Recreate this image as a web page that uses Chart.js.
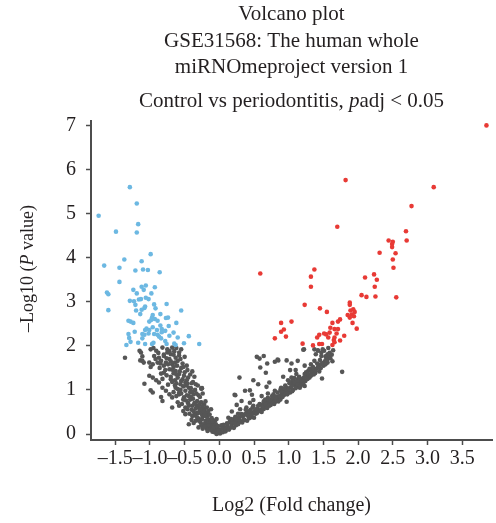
<!DOCTYPE html>
<html>
<head>
<meta charset="utf-8">
<title>Volcano plot</title>
<script src="https://cdn.jsdelivr.net/npm/chart.js@4.4.1/dist/chart.umd.min.js"></script>
<style>
  html, body { margin: 0; padding: 0; background: #ffffff; }
  #wrap { width: 496px; height: 523px; }
</style>
</head>
<body>
<div id="wrap"><canvas id="volcanoChart"></canvas></div>
<script>
// Textos
const titleLines = ["Volcano plot", "GSE31568: The human whole", "miRNOmeproject version 1"];
const subtitleRuns = [
  { text: "Control vs periodontitis, " },
  { text: "p", italic: true },
  { text: "adj < 0.05" },
];
const yTitleRuns = [
  { text: "–Log10 (" },
  { text: "P", italic: true },
  { text: " value)" },
];
const xTitle = "Log2 (Fold change)";

// Ticks
const xTicks = [-1.5, -1.0, -0.5, 0.0, 0.5, 1.0, 1.5, 2.0, 2.5, 3.0, 3.5];
const yTicks = [0, 1, 2, 3, 4, 5, 6, 7];

// Pontos [log2FC, -log10 p]
const downPoints = [
  [-1.29, 5.60], [-1.19, 5.23], [-1.74, 4.95], [-1.17, 4.76], [-1.49, 4.59], [-1.19, 4.57],
  [-0.99, 4.08], [-1.37, 3.96], [-1.12, 3.92], [-1.66, 3.82], [-1.44, 3.77], [-1.21, 3.71],
  [-1.10, 3.73], [-1.03, 3.72], [-0.86, 3.67], [-1.44, 3.45], [-1.06, 3.37], [-0.93, 3.33],
  [-1.12, 3.34], [-1.24, 3.27], [-1.09, 3.27], [-1.62, 3.21], [-1.60, 3.17], [-1.19, 3.19],
  [-0.98, 3.19], [-1.06, 3.09], [-1.16, 3.05], [-1.13, 3.06], [-1.02, 3.06], [-1.29, 3.02],
  [-1.23, 3.01], [-1.21, 2.93], [-0.94, 2.94], [-0.76, 2.95], [-1.07, 2.89], [-1.08, 2.86],
  [-0.92, 2.85], [-1.60, 2.81], [-1.20, 2.80], [-1.12, 2.82], [-0.55, 2.80], [-1.14, 2.72],
  [-0.85, 2.72], [-0.96, 2.70], [-0.97, 2.64], [-0.98, 2.59], [-0.77, 2.63], [-0.74, 2.64],
  [-0.93, 2.61], [-1.31, 2.57], [-1.28, 2.55], [-1.24, 2.52], [-1.01, 2.55], [-0.89, 2.57],
  [-0.62, 2.52], [-0.85, 2.46], [-0.73, 2.45], [-0.96, 2.42], [-1.05, 2.39], [-0.83, 2.38],
  [-1.07, 2.36], [-1.01, 2.36], [-0.90, 2.36], [-1.22, 2.32], [-0.83, 2.31], [-0.78, 2.34],
  [-0.66, 2.30], [-1.31, 2.27], [-1.11, 2.27], [-1.08, 2.25], [-1.02, 2.28], [-0.94, 2.27],
  [-0.89, 2.25], [-0.87, 2.21], [-0.72, 2.23], [-0.44, 2.22], [-1.30, 2.18], [-1.11, 2.17],
  [-0.84, 2.17], [-0.60, 2.19], [-0.78, 2.11], [-1.28, 2.09], [-1.17, 2.07], [-0.95, 2.07],
  [-1.07, 2.04], [-0.97, 2.04], [-0.76, 2.04], [-1.34, 2.02], [-0.65, 2.05], [-0.51, 2.06],
  [-0.29, 2.04], [-0.63, 2.02],
];

const upPoints = [
  [3.85, 7.00], [1.82, 5.76], [3.09, 5.60], [2.77, 5.17], [1.70, 4.70], [2.69, 4.60],
  [2.70, 4.39], [2.44, 4.39], [2.50, 4.36], [2.49, 4.31], [2.49, 4.24], [2.31, 4.11],
  [2.54, 4.10], [2.50, 3.96], [2.51, 3.77], [0.59, 3.64], [1.37, 3.73], [1.32, 3.57],
  [1.32, 3.34], [2.23, 3.62], [2.10, 3.55], [2.27, 3.50], [2.24, 3.34], [2.05, 3.15],
  [2.12, 3.11], [2.25, 3.12], [2.55, 3.10], [1.23, 2.93], [1.88, 2.98], [1.88, 2.93],
  [1.45, 2.85], [1.55, 2.77], [1.89, 2.80], [1.93, 2.83], [1.95, 2.77], [1.85, 2.70],
  [1.91, 2.71], [1.94, 2.67], [1.88, 2.64], [1.74, 2.60], [1.71, 2.55], [1.92, 2.52],
  [1.63, 2.52], [1.04, 2.55], [0.89, 2.52], [0.93, 2.37], [0.89, 2.32], [0.96, 2.21],
  [0.80, 2.17], [1.60, 2.41], [1.66, 2.38], [1.71, 2.38], [1.98, 2.39], [1.54, 2.26],
  [1.51, 2.28], [1.44, 2.25], [1.59, 2.30], [1.69, 2.28], [1.80, 2.23], [1.57, 2.19],
  [1.66, 2.19], [1.41, 2.19], [1.65, 2.13], [1.74, 2.12], [1.66, 2.08], [1.63, 2.02],
  [1.20, 2.05], [1.35, 2.01], [1.44, 2.04], [1.48, 2.04],
];

// cinzentos, braço esquerdo do V
const nsLeft = [
  [-1.36, 1.73], [-1.13, 1.85], [-1.11, 1.76], [-1.14, 1.67], [-1.09, 1.62], [-0.99, 1.92],
  [-0.91, 1.89], [-0.82, 1.96], [-0.75, 1.92], [-0.68, 1.96], [-0.94, 1.77], [-0.87, 1.73],
  [-0.80, 1.77], [-0.70, 1.81], [-0.63, 1.73], [-0.58, 1.85], [-0.89, 1.62], [-0.96, 1.58],
  [-0.99, 1.52], [-0.77, 1.62], [-0.68, 1.58], [-0.72, 1.47], [-0.63, 1.43], [-0.80, 1.39],
  [-0.84, 1.37], [-1.01, 1.32], [-0.96, 1.28], [-1.08, 1.14], [-0.91, 1.22], [-0.87, 1.17],
  [-0.70, 1.24], [-0.58, 1.36], [-0.53, 1.24], [-0.39, 1.42], [-0.99, 0.99], [-0.96, 0.94],
  [-0.82, 1.05], [-0.77, 0.98], [-0.84, 0.84], [-0.82, 0.75], [-0.72, 0.90], [-0.68, 0.83],
  [-0.63, 1.05], [-0.56, 1.13], [-0.49, 1.17], [-0.44, 1.05], [-0.34, 1.13], [-0.25, 1.04],
  [-0.58, 0.90], [-0.51, 0.83], [-0.44, 0.86], [-0.37, 0.90], [-0.32, 0.75], [-0.68, 0.60],
  [-0.58, 0.64], [-0.49, 0.60], [-0.39, 0.64], [-0.30, 0.60], [-0.22, 0.67], [-0.49, 0.45],
  [-0.39, 0.41], [-0.32, 0.48], [-0.25, 0.45], [-0.18, 0.48], [-0.34, 0.30], [-0.27, 0.26],
  [-0.20, 0.30], [-0.13, 0.22], [-0.08, 0.30], [-0.15, 0.13], [-0.06, 0.11], [-0.01, 0.03],
  [-0.44, 0.22], [-1.15, 1.89], [-1.11, 1.66], [-1.01, 1.62], [-0.58, 0.94], [-0.26, 1.03],
  [-0.75, 1.85], [-0.65, 1.88], [-0.72, 1.70], [-0.60, 1.66], [-0.66, 1.52], [-0.55, 1.50],
  [-0.62, 1.35], [-0.50, 1.40], [-0.55, 1.20], [-0.45, 1.28], [-0.48, 1.10], [-0.40, 1.15],
  [-0.42, 0.95], [-0.35, 1.00], [-0.38, 0.80], [-0.30, 0.88], [-0.33, 0.65], [-0.26, 0.72],
  [-0.28, 0.52], [-0.22, 0.55], [-0.24, 0.40], [-0.18, 0.40], [-0.20, 0.25], [-0.14, 0.32],
  [-0.12, 0.16], [-0.10, 0.24], [-0.05, 0.08], [-0.03, 0.15], [-0.53, 1.60], [-0.47, 1.55],
  [-0.58, 1.78], [-0.80, 1.80], [-0.85, 1.60], [-0.78, 1.45], [-0.70, 1.30], [-0.64, 1.10],
  [-0.56, 1.00], [-0.52, 0.78], [-0.45, 0.70], [-0.40, 0.55], [-0.36, 0.45], [-0.30, 0.35],
  [-0.26, 0.20], [-0.18, 0.12], [-0.10, 0.05], [-0.06, 0.30], [-0.20, 0.41], [-0.22, 0.56],
  [-0.27, 0.71], [-0.15, 0.26], [-0.08, 0.18], [-0.26, 1.03],
  [-0.95, 1.95], [-0.88, 1.84], [-0.72, 1.88], [-0.62, 1.95], [-0.55, 1.92], [-0.66, 1.80],
  [-0.92, 1.70], [-0.84, 1.66], [-0.76, 1.72], [-0.70, 1.65], [-0.64, 1.62], [-0.56, 1.70],
  [-0.50, 1.75], [-0.86, 1.50], [-0.80, 1.55], [-0.74, 1.58], [-0.68, 1.46], [-0.61, 1.55],
  [-0.57, 1.42], [-0.52, 1.52], [-0.46, 1.45], [-0.82, 1.25], [-0.76, 1.33], [-0.66, 1.38],
  [-0.64, 1.22], [-0.60, 1.28], [-0.51, 1.32], [-0.47, 1.22], [-0.42, 1.35], [-0.36, 1.30],
  [-0.74, 1.12], [-0.68, 1.18], [-0.62, 1.15], [-0.60, 1.02], [-0.52, 1.08], [-0.46, 1.14],
  [-0.41, 1.04], [-0.38, 1.18], [-0.31, 1.10], [-0.66, 0.95], [-0.62, 0.86], [-0.55, 0.92],
  [-0.49, 0.98], [-0.47, 0.88], [-0.41, 0.84], [-0.39, 0.96], [-0.33, 0.92], [-0.28, 0.84],
  [-0.24, 0.92], [-0.60, 0.72], [-0.54, 0.68], [-0.48, 0.76], [-0.44, 0.64], [-0.42, 0.78],
  [-0.36, 0.70], [-0.34, 0.58], [-0.29, 0.66], [-0.24, 0.62], [-0.20, 0.74], [-0.18, 0.60],
  [-0.52, 0.52], [-0.46, 0.56], [-0.43, 0.46], [-0.37, 0.52], [-0.35, 0.42], [-0.30, 0.48],
  [-0.27, 0.56], [-0.23, 0.50], [-0.21, 0.43], [-0.16, 0.52], [-0.14, 0.44], [-0.12, 0.56],
  [-0.40, 0.32], [-0.37, 0.25], [-0.32, 0.38], [-0.29, 0.30], [-0.25, 0.34], [-0.22, 0.22],
  [-0.17, 0.34], [-0.16, 0.20], [-0.11, 0.36], [-0.09, 0.28], [-0.05, 0.22], [-0.04, 0.34],
  [-0.30, 0.15], [-0.24, 0.12], [-0.21, 0.17], [-0.17, 0.07], [-0.13, 0.10], [-0.09, 0.14],
  [-0.07, 0.04], [-0.03, 0.06], [-0.02, 0.18], [0.01, 0.01], [-0.04, 0.00],
];

// cinzentos, braço direito do V
const nsRight = [
  [0.00, 0.10], [0.02, 0.05], [0.03, 0.20], [0.06, 0.14], [0.04, 0.13], [-0.01, 0.08],
  [0.54, 1.75], [0.58, 1.71], [0.64, 1.77], [0.59, 1.51], [0.67, 1.39], [0.69, 1.60],
  [0.80, 1.64], [0.85, 1.67], [0.97, 1.67], [1.04, 1.60], [1.13, 1.66], [1.02, 1.45],
  [1.10, 1.45], [0.29, 1.28], [0.49, 1.22], [0.56, 1.13], [0.72, 1.17], [0.68, 1.07],
  [0.37, 0.98], [0.44, 0.99], [0.22, 0.89], [0.47, 0.89], [0.32, 0.75], [0.25, 0.66],
  [0.44, 0.71], [0.49, 0.77], [0.61, 0.86], [0.70, 0.92], [0.80, 0.98], [0.89, 1.05],
  [0.85, 0.84], [0.97, 0.73], [0.18, 0.51], [0.30, 0.56], [0.39, 0.60], [0.49, 0.64],
  [0.59, 0.67], [0.68, 0.73], [0.78, 0.75], [0.13, 0.37], [0.23, 0.39], [0.32, 0.43],
  [0.42, 0.48], [0.51, 0.52], [0.63, 0.56], [0.16, 0.26], [0.25, 0.30], [0.35, 0.33],
  [0.92, 1.30], [0.99, 1.22], [1.04, 1.28], [1.13, 1.24], [1.18, 1.17], [1.06, 1.13],
  [1.11, 1.36], [0.97, 1.05], [1.23, 1.55], [1.28, 1.43], [1.32, 1.58], [1.37, 1.66],
  [1.39, 1.81], [1.47, 1.77], [1.51, 1.89], [1.54, 1.73], [1.43, 1.55], [1.35, 1.47],
  [1.48, 1.26], [1.22, 1.92], [1.37, 1.92], [1.42, 1.89], [1.56, 1.81], [1.16, 1.05],
  [1.23, 1.09], [1.77, 1.41], [1.21, 1.91], [0.84, 1.69], [1.56, 1.70], [1.42, 1.90],
  [1.49, 1.92], [0.23, 0.88],
  [0.08, 0.10], [0.12, 0.18], [0.18, 0.22], [0.20, 0.30], [0.26, 0.28], [0.28, 0.38],
  [0.34, 0.40], [0.38, 0.45], [0.42, 0.40], [0.45, 0.55], [0.52, 0.46], [0.55, 0.58],
  [0.60, 0.55], [0.62, 0.66], [0.66, 0.62], [0.70, 0.70], [0.74, 0.66], [0.76, 0.80],
  [0.80, 0.72], [0.83, 0.85], [0.86, 0.80], [0.90, 0.92], [0.93, 0.88], [0.95, 0.98],
  [1.00, 0.95], [1.02, 1.05], [1.06, 1.00], [1.08, 1.12], [1.12, 1.08], [1.15, 1.18],
  [1.18, 1.12], [1.20, 1.25], [1.24, 1.20], [1.26, 1.32], [1.30, 1.28], [1.33, 1.40],
  [1.36, 1.35], [1.40, 1.48], [1.44, 1.42], [1.46, 1.58], [1.50, 1.55], [1.52, 1.65],
  [1.56, 1.62], [1.58, 1.78], [1.60, 1.72], [1.45, 1.68], [1.35, 1.52], [1.25, 1.40],
  [1.15, 1.30], [1.05, 1.20], [0.95, 1.10], [0.88, 1.00], [0.78, 0.90], [0.70, 0.82],
  [0.64, 0.74], [0.58, 0.68], [0.48, 0.60], [0.40, 0.50], [0.32, 0.45], [0.22, 0.35],
  [0.15, 0.28],
  [0.05, 0.04], [0.09, 0.06], [0.10, 0.15], [0.14, 0.10], [0.17, 0.15], [0.21, 0.14],
  [0.24, 0.20], [0.06, 0.21], [0.11, 0.24], [0.19, 0.26], [0.22, 0.24], [0.27, 0.22],
  [0.30, 0.28], [0.33, 0.26], [0.36, 0.32], [0.40, 0.30], [0.43, 0.36], [0.29, 0.33],
  [0.17, 0.34], [0.24, 0.36], [0.46, 0.38], [0.50, 0.37], [0.36, 0.44], [0.41, 0.42],
  [0.47, 0.45], [0.50, 0.50], [0.54, 0.47], [0.57, 0.52], [0.61, 0.50], [0.44, 0.52],
  [0.38, 0.55], [0.64, 0.57], [0.69, 0.59], [0.53, 0.56], [0.27, 0.46], [0.56, 0.64],
  [0.62, 0.61], [0.67, 0.67], [0.72, 0.64], [0.75, 0.70], [0.79, 0.68], [0.73, 0.76],
  [0.82, 0.76], [0.66, 0.78], [0.85, 0.74], [0.88, 0.78], [0.81, 0.82], [0.87, 0.86],
  [0.91, 0.84], [0.94, 0.92], [0.98, 0.90], [0.90, 0.96], [1.02, 0.94], [0.84, 0.94],
  [1.05, 0.97], [0.76, 0.86], [0.99, 1.02], [1.04, 1.08], [1.10, 1.04], [1.13, 1.13],
  [1.17, 1.09], [1.01, 1.15], [1.21, 1.16], [0.93, 1.03], [1.09, 1.18], [1.19, 1.22],
  [1.22, 1.28], [1.27, 1.25], [1.29, 1.34], [1.16, 1.26], [1.32, 1.32], [1.08, 1.27],
  [1.38, 1.38], [1.23, 1.36], [1.34, 1.44], [1.38, 1.43], [1.42, 1.51], [1.46, 1.49],
  [1.49, 1.61], [1.41, 1.60], [1.53, 1.58], [1.55, 1.68], [1.30, 1.48], [1.63, 1.65],
  [1.53, 1.76], [1.59, 1.84], [1.62, 1.80], [1.47, 1.85], [1.64, 1.90], [1.57, 1.95],
];

const fontFamily = "'Liberation Serif', 'Times New Roman', serif";
const textColor = "#231f20";
const axisColor = "#4d4d4d";

function toXY(points) {
  return points.map(([x, y]) => ({ x: x, y: y }));
}

// escreve texto com partes em itálico, centrado em (cx, cy)
function drawRuns(ctx, runs, cx, cy, size) {
  const fonts = runs.map((r) => (r.italic ? "italic " : "") + size + "px " + fontFamily);
  const widths = runs.map((r, i) => {
    ctx.font = fonts[i];
    return ctx.measureText(r.text).width;
  });
  let x = cx - widths.reduce((a, b) => a + b, 0) / 2;
  ctx.textAlign = "left";
  ctx.textBaseline = "middle";
  runs.forEach((r, i) => {
    ctx.font = fonts[i];
    ctx.fillText(r.text, x, cy);
    x += widths[i];
  });
}

const mixedLabels = {
  id: "mixedLabels",
  afterDraw(chart) {
    const { ctx, chartArea } = chart;
    ctx.save();
    ctx.fillStyle = textColor;
    drawRuns(ctx, subtitleRuns, (chartArea.left + chartArea.right) / 2, chartArea.top - 20, 21);
    ctx.translate(28, (chartArea.top + chartArea.bottom) / 2 - 12);
    ctx.rotate(-Math.PI / 2);
    drawRuns(ctx, yTitleRuns, 0, 0, 18);
    ctx.restore();
  },
};

function xLabel(value) {
  const v = Number(value);
  if (v < 0) return "–" + Math.abs(v).toFixed(1);
  return v.toFixed(1);
}

new Chart(document.getElementById("volcanoChart"), {
  type: "scatter",
  data: {
    datasets: [
      {
        label: "Up",
        data: toXY(upPoints),
        backgroundColor: "#e83a35",
        pointRadius: 2.3,
        borderWidth: 0,
      },
      {
        label: "Down",
        data: toXY(downPoints),
        backgroundColor: "#6cb8e2",
        pointRadius: 2.3,
        borderWidth: 0,
      },
      {
        label: "NS",
        data: toXY(nsLeft.concat(nsRight)),
        backgroundColor: "#565656",
        pointRadius: 2.3,
        borderWidth: 0,
      },
    ],
  },
  options: {
    responsive: true,
    maintainAspectRatio: false,
    animation: false,
    layout: { padding: { left: 56, right: 0, top: 0, bottom: 5 } },
    plugins: {
      legend: { display: false },
      tooltip: { enabled: false },
      title: {
        display: true,
        text: titleLines,
        fullSize: false,
        color: textColor,
        font: { family: fontFamily, size: 21, weight: "normal", lineHeight: 1.27 },
        padding: { top: 1, bottom: 40 },
      },
    },
    scales: {
      x: {
        type: "linear",
        min: -1.85,
        max: 3.93,
        afterBuildTicks: (scale) => {
          scale.ticks = xTicks.map((v) => ({ value: v }));
        },
        ticks: {
          callback: xLabel,
          color: textColor,
          font: { family: fontFamily, size: 20 },
          padding: 2,
          maxRotation: 0,
          autoSkip: false,
        },
        grid: {
          drawOnChartArea: false,
          drawTicks: true,
          tickLength: 5,
          tickColor: axisColor,
          tickWidth: 1.5,
        },
        border: { display: true, color: axisColor, width: 2 },
        title: {
          display: true,
          text: xTitle,
          color: textColor,
          font: { family: fontFamily, size: 20 },
          padding: { top: 21, bottom: 0 },
        },
      },
      y: {
        type: "linear",
        min: -0.136,
        max: 7.1,
        afterBuildTicks: (scale) => {
          scale.ticks = yTicks.map((v) => ({ value: v }));
        },
        ticks: {
          color: textColor,
          font: { family: fontFamily, size: 20 },
          padding: 10,
        },
        grid: {
          drawOnChartArea: false,
          drawTicks: true,
          tickLength: 5,
          tickColor: axisColor,
          tickWidth: 1.5,
        },
        border: { display: true, color: axisColor, width: 2 },
      },
    },
  },
  plugins: [mixedLabels],
});
</script>
</body>
</html>
